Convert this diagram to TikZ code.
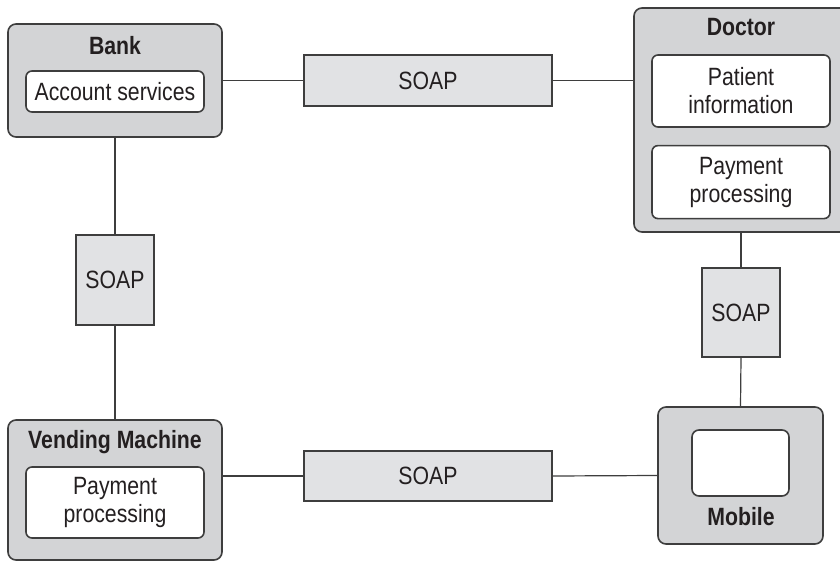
\documentclass[tikz,border=0pt]{standalone}
\usepackage{fontspec}
\setmainfont{Liberation Sans}[FakeStretch=0.85]
\usepackage{tikz}
\usetikzlibrary{positioning}
\definecolor{hostGray}{RGB}{211,212,214}
\definecolor{soapGray}{RGB}{225,226,228}
\definecolor{lineGray}{RGB}{62,62,62}
\definecolor{inkDark}{RGB}{35,31,32}

\begin{document}
\begin{tikzpicture}[x=0.5pt, y=-0.5pt,
  every node/.style={font=\fontsize{12.5}{14}\selectfont, text=inkDark, align=center, inner sep=0pt},
  host/.style={draw=lineGray, line width=0.8pt, rounded corners=4pt, fill=hostGray},
  part/.style={draw=lineGray, line width=0.8pt, rounded corners=3pt, fill=white},
  soap/.style={draw=lineGray, line width=0.8pt, fill=soapGray},
  title/.style={font=\fontsize{12.5}{14}\selectfont\bfseries},
  wire/.style={line width=0.6pt, color=lineGray}]
\clip (0,0) rectangle (840,561);

% hosts
\node[host, minimum width=107pt, minimum height=56.5pt] (bank) at (115,80.5) {};
\node[host, minimum width=107pt, minimum height=112pt] (doctor) at (741,120) {};
\node[host, minimum width=107pt, minimum height=70pt] (vending) at (115,490) {};
\node[host, minimum width=82.5pt, minimum height=68.5pt] (mobile) at (740.5,475.5) {};

% titles
\node[title] (bankTitle) at (115,46) {Bank};
\node[title] (doctorTitle) at (741,27) {Doctor};
\node[title] (vendingTitle) at (115,442) {Vending Machine};
\node[title] (mobileTitle) at (741,517) {Mobile};

% services
\node[part, minimum width=89pt, minimum height=20.5pt] (account) at (115,91.5) {Account services};
\node[part, minimum width=89pt, minimum height=36pt] (patient) at (741,91) {Patient\\information};
\node[part, minimum width=89pt, minimum height=36.5pt, below=8.5pt of patient] (doctorPay) {Payment\\processing};
\node[part, minimum width=89pt, minimum height=35.5pt] (vendingPay) at (115,502.5) {Payment\\processing};
\node[part, minimum width=48.5pt, minimum height=33pt, rounded corners=3.5pt] (screen) at (740.5,463) {};

% soap links
\node[soap, minimum width=124pt, minimum height=25.5pt] (soapTop) at (428,80.5) {SOAP};
\node[soap, minimum width=124pt, minimum height=25pt] (soapBottom) at (428,476) {SOAP};
\node[soap, minimum width=39pt, minimum height=45pt] (soapLeft) at (115,280) {SOAP};
\node[soap, minimum width=39pt, minimum height=44.5pt] (soapRight) at (741,312.5) {SOAP};

\draw[wire] (bank.east)--(soapTop.west);
\draw[wire] (soapTop.east)--(soapTop.east -| doctor.west);
\draw[wire] (bank.south)--(soapLeft.north);
\draw[wire] (soapLeft.south)--(vending.north);
\draw[wire] (doctor.south)--(soapRight.north);
\draw[wire] (soapRight.south)--(mobile.north);
\draw[wire] (soapBottom.west -| vending.east)--(soapBottom.west);
\draw[wire] (soapBottom.east)--(mobile.west);
\end{tikzpicture}
\end{document}
